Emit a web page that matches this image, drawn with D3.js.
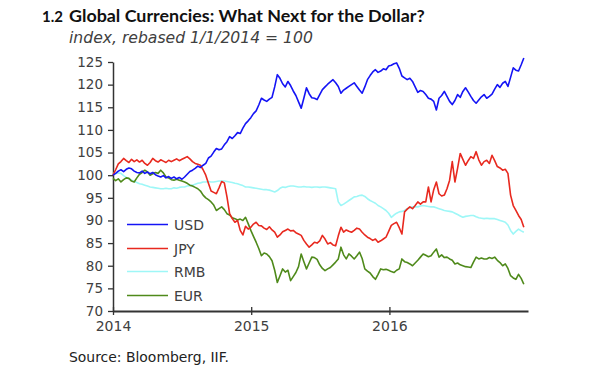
<!DOCTYPE html>
<html><head><meta charset="utf-8">
<script src="https://cdn.jsdelivr.net/npm/d3@7"></script>
<style>body{margin:0;background:#fff}</style>
</head><body><svg id="c" width="605" height="378"></svg>
<script>
// weekly observations starting 2014-01-01
const startDate = "2014-01-01";
const usd = [
100.0,100.4,100.9,101.2,100.8,101.3,101.6,101.4,100.9,100.6,
100.5,100.9,100.4,100.7,100.3,100.6,100.1,99.8,99.6,99.9,
99.4,99.7,99.3,99.6,99.2,99.5,99.1,99.6,100.2,100.8,
101.1,101.5,102.0,101.7,102.2,102.6,103.8,104.2,105.1,105.9,
105.6,105.8,106.7,107.4,108.5,108.1,108.7,109.4,109.2,110.4,
111.4,112.0,112.7,113.6,114.2,115.5,117.0,116.6,116.3,116.8,
117.2,119.5,122.2,121.4,120.2,119.5,120.7,119.8,118.6,117.6,
116.2,114.8,117.0,119.3,118.0,117.1,117.0,116.7,117.8,118.9,
119.5,120.1,120.6,121.1,120.4,119.6,118.1,118.8,119.2,119.6,
120.0,120.4,119.6,118.8,118.1,119.5,121.1,122.0,122.8,123.3,
122.7,123.0,123.5,123.3,124.1,124.3,124.6,124.8,123.6,121.9,
121.5,121.1,121.4,120.7,119.5,118.3,118.7,118.5,117.8,117.0,
116.8,116.3,114.4,117.0,117.6,118.5,117.4,116.3,115.6,116.5,
117.8,117.2,118.5,119.3,118.4,117.4,116.5,115.9,116.6,117.3,
117.8,117.0,117.4,117.9,119.0,120.0,119.4,120.3,120.7,119.6,
121.6,123.7,123.2,123.0,124.4,125.9];
const jpy = [
100.0,101.2,102.5,103.0,103.7,103.2,102.8,103.5,103.0,103.4,
102.9,103.3,102.6,102.2,102.8,103.7,103.2,102.9,103.4,103.1,
102.8,103.3,103.0,103.3,103.6,103.2,103.5,103.8,104.1,103.6,
103.0,102.6,102.4,102.2,101.2,100.0,98.2,96.5,96.2,95.9,
97.2,98.6,98.3,95.2,91.5,90.4,89.6,90.0,87.8,86.8,
88.7,88.1,88.5,89.2,89.6,88.9,88.8,88.3,88.0,88.6,
87.9,87.4,86.3,86.8,87.5,87.8,88.1,87.7,87.8,87.3,
87.0,86.7,85.6,84.8,84.1,84.6,85.2,85.0,85.5,86.7,
85.9,84.8,85.1,84.6,84.4,86.6,88.5,87.4,87.9,87.6,
87.4,87.8,88.3,88.1,87.4,86.8,86.3,86.0,85.6,85.9,
85.2,85.5,85.9,86.3,87.6,88.9,89.3,89.6,88.4,87.0,
91.9,92.5,93.0,92.6,93.3,94.1,93.6,94.1,94.1,97.4,
94.1,96.8,98.5,95.9,95.4,95.6,97.0,98.9,103.0,98.5,
101.5,104.8,103.5,102.2,103.2,104.1,103.7,105.2,103.4,102.2,
103.0,103.3,102.6,104.4,103.2,101.9,101.6,101.1,101.3,100.4,
95.6,93.3,92.2,91.1,90.2,88.5];
const rmb = [
100.4,100.3,100.5,100.4,99.9,99.5,99.2,98.9,98.6,98.4,
98.1,98.0,97.8,97.6,97.4,97.3,97.2,97.1,97.0,97.0,
97.1,97.0,97.0,97.2,97.1,97.3,97.4,97.4,97.6,97.7,
97.8,98.0,98.2,98.3,98.5,98.5,98.6,98.5,98.5,98.6,
98.7,98.7,98.7,98.6,98.5,98.4,98.2,98.1,97.9,97.7,
97.4,97.4,97.3,97.2,97.1,97.0,96.9,96.8,96.8,96.7,
96.5,96.3,96.6,97.1,97.4,97.3,97.5,97.6,97.6,97.5,
97.4,97.4,97.5,97.4,97.4,97.3,97.4,97.4,97.3,97.4,
97.4,97.3,97.2,97.1,97.0,94.1,93.3,93.6,94.0,94.4,
94.8,95.2,95.3,95.5,95.6,95.3,94.8,94.4,94.1,93.8,
93.3,93.0,92.6,92.2,91.6,90.7,91.2,91.6,91.9,92.0,
92.2,92.6,92.8,93.0,93.0,93.0,93.2,93.3,93.2,93.1,
93.0,93.0,92.8,92.6,92.4,92.2,92.1,92.0,91.9,91.6,
91.3,91.0,90.7,90.9,91.0,91.1,91.1,90.8,90.6,90.5,
90.4,90.5,90.4,90.4,90.4,90.2,90.0,89.8,89.6,89.0,
87.8,87.0,87.6,88.1,87.7,87.4];
const eur = [
99.3,98.8,99.2,98.5,99.0,99.4,99.3,98.7,98.5,99.4,
100.2,100.6,101.1,100.7,100.0,100.3,100.6,100.4,101.1,100.5,
99.6,99.4,99.0,98.9,99.1,98.9,98.7,98.5,98.2,97.8,
97.6,97.3,97.0,96.5,95.6,95.0,94.6,94.1,93.4,92.2,
92.6,93.0,92.4,91.5,91.2,90.6,90.4,90.1,90.3,90.0,
90.7,89.3,87.8,86.5,85.2,83.8,82.2,82.8,82.6,82.0,
81.1,79.0,76.3,77.8,79.3,78.6,79.0,76.7,77.6,78.5,
79.8,82.6,80.9,79.3,80.6,81.9,81.8,81.4,80.2,79.4,
78.9,79.3,79.6,80.2,80.8,81.5,84.1,82.4,81.5,82.6,
82.1,81.5,82.2,83.0,81.6,79.3,78.8,78.4,77.6,77.0,
78.1,79.3,79.1,79.2,79.0,78.7,78.5,79.0,79.3,81.5,
80.9,80.7,80.4,80.0,80.6,81.2,81.9,82.6,82.3,82.0,
82.2,83.0,83.7,81.9,82.4,81.8,81.9,81.5,81.2,80.4,
80.6,80.2,80.0,79.8,79.7,79.6,80.8,81.9,81.5,81.7,
81.5,81.5,81.8,81.6,81.9,81.2,80.7,80.0,80.4,79.4,
77.8,77.3,77.0,78.1,77.2,75.9];
const seriesNames = ["USD","JPY","RMB","EUR"];
const seriesColors = ["#1414f5","#e8291f","#9ef7f7","#4f8a1b"];
const yTicks = [70,75,80,85,90,95,100,105,110,115,120,125];
const xTickDates = ["2014-01-01","2015-01-01","2016-01-01"];
const xTickLabels = ["2014","2015","2016"];
const xDomain = ["2014-01-01","2017-01-01"];
const titleNum = "1.2";
const titleText = "Global Currencies: What Next for the Dollar?";
const subtitleText = "index, rebased 1/1/2014 = 100";
const sourceText = "Source: Bloomberg, IIF.";

const svg = d3.select("#c");
const FONT = "'DejaVu Sans', sans-serif";
const TFONT = "Lato, 'DejaVu Sans', sans-serif";
const parse = d3.utcParse("%Y-%m-%d");
const t0 = parse(startDate);
const allSeries = [usd, jpy, rmb, eur];

const x = d3.scaleUtc().domain(xDomain.map(parse)).range([113, 528]);
const y = d3.scaleLinear().domain([70, 125]).range([311, 62]);

function fitWidth(sel, w) {
  const cur = sel.node().getComputedTextLength();
  const fs = parseFloat(sel.attr("font-size"));
  sel.attr("font-size", (fs * w / cur).toFixed(2));
}

// title
svg.append("text").attr("x", 42).attr("y", 22).attr("font-family", TFONT)
  .attr("font-weight", "bold").attr("font-size", 16).attr("fill", "#111").text(titleNum)
  .call(s => fitWidth(s, 21));
svg.append("text").attr("x", 69).attr("y", 22).attr("font-family", TFONT)
  .attr("font-weight", "bold").attr("font-size", 14).attr("fill", "#111").text(titleText)
  .call(s => fitWidth(s, 356));
svg.append("text").attr("x", 69).attr("y", 43).attr("font-family", FONT)
  .attr("font-style", "italic").attr("font-size", 14).attr("fill", "#404040").text(subtitleText)
  .call(s => fitWidth(s, 244));
svg.append("text").attr("x", 69).attr("y", 362).attr("font-family", FONT)
  .attr("font-size", 13).attr("fill", "#222").text(sourceText)
  .call(s => fitWidth(s, 160));

// y axis
const yAxis = svg.append("g").attr("transform", "translate(113,0)")
  .call(d3.axisLeft(y).tickValues(yTicks).tickSize(5).tickSizeOuter(0).tickPadding(5));
yAxis.select(".domain").attr("stroke", "#333").attr("stroke-width", 1.5);
yAxis.selectAll(".tick line").attr("stroke", "#333").attr("stroke-width", 1.3);
yAxis.selectAll(".tick text").attr("font-family", FONT).attr("font-size", 13.5).attr("fill", "#404040");

// x axis
const xAxis = svg.append("g").attr("transform", "translate(0,311)")
  .call(d3.axisBottom(x).tickValues(xTickDates.map(parse)).tickFormat((d, i) => xTickLabels[i])
    .tickSize(4).tickSizeOuter(0).tickPadding(6));
xAxis.select(".domain").attr("stroke", "#333").attr("stroke-width", 2);
xAxis.selectAll(".tick line").attr("y1", -4).attr("stroke", "#333").attr("stroke-width", 1.3);
xAxis.selectAll(".tick text").attr("font-family", FONT).attr("font-size", 14).attr("fill", "#404040");

// lines
const line = d3.line().x((d, i) => x(d3.utcDay.offset(t0, 7 * i))).y(d => y(d));
const drawOrder = [2, 3, 1, 0];
drawOrder.forEach(k => {
  svg.append("path").datum(allSeries[k]).attr("fill", "none")
    .attr("stroke", seriesColors[k]).attr("stroke-width", 1.6)
    .attr("stroke-linejoin", "round").attr("d", line);
});

// legend
const legY = [224.5, 248.5, 271.5, 295.5];
seriesNames.forEach((n, k) => {
  svg.append("line").attr("x1", 127).attr("x2", 168).attr("y1", legY[k]).attr("y2", legY[k])
    .attr("stroke", seriesColors[k]).attr("stroke-width", 1.6);
  svg.append("text").attr("x", 174).attr("y", legY[k]).attr("dy", "0.36em")
    .attr("font-family", FONT).attr("font-size", 14).attr("fill", "#404040").text(n);
});
</script>
</body></html>
